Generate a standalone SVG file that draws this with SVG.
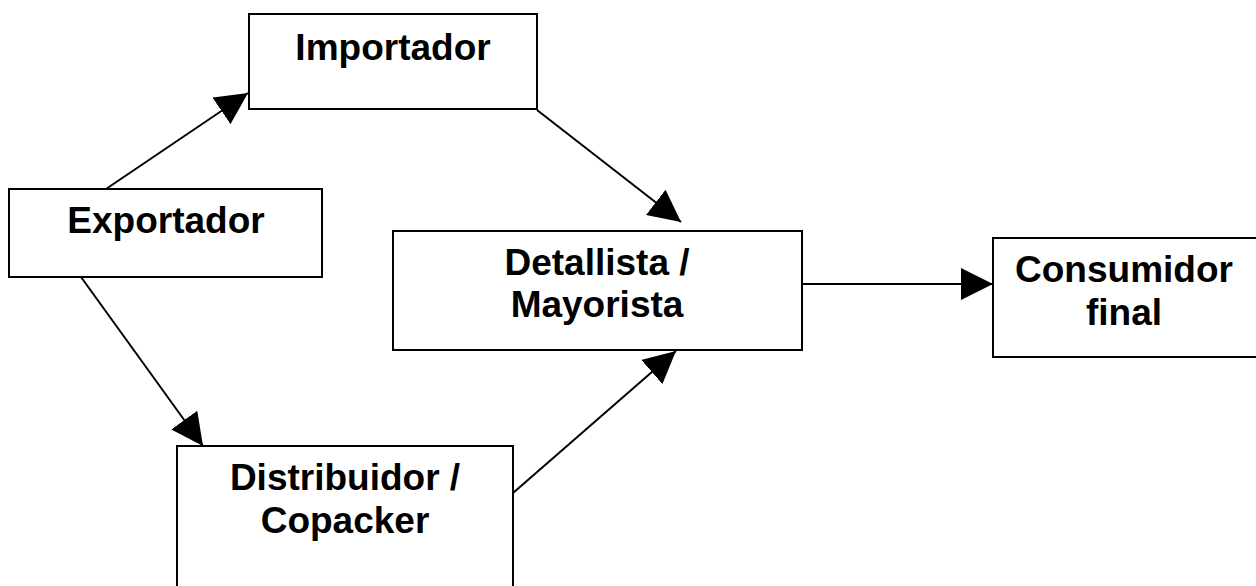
<svg xmlns="http://www.w3.org/2000/svg" width="1256" height="586" viewBox="0 0 1256 586">
<style>
.box{fill:#fff;stroke:#000;stroke-width:2}
.lbl{font-family:"Liberation Sans",Arial,sans-serif;font-weight:bold;font-size:37px;fill:#000;text-anchor:middle}
.edge{stroke:#000;stroke-width:2;fill:none;marker-end:url(#ah)}
</style>
<defs>
<marker id="ah" markerUnits="userSpaceOnUse" markerWidth="32" markerHeight="32" viewBox="0 0 30 30" refX="30" refY="15" orient="auto">
<path d="M0,0 L30,15 L0,30 Z" fill="#000"/>
</marker>
</defs>
<rect width="1256" height="586" fill="#fff"/>
<g id="connectors">
<line class="edge" x1="106" y1="189" x2="248" y2="93"/>
<line class="edge" x1="81" y1="277" x2="203" y2="446"/>
<line class="edge" x1="537" y1="110" x2="681" y2="222"/>
<line class="edge" x1="513" y1="493" x2="676" y2="351"/>
<line class="edge" x1="802" y1="284" x2="993" y2="284"/>
</g>
<g id="importador">
<rect class="box" x="249" y="14" width="288" height="95"/>
<text class="lbl" x="393" y="60">Importador</text>
</g>
<g id="exportador">
<rect class="box" x="9" y="189" width="313" height="88"/>
<text class="lbl" x="166" y="233">Exportador</text>
</g>
<g id="detallista">
<rect class="box" x="393" y="231" width="409" height="119"/>
<text class="lbl" x="597" y="275">Detallista /</text>
<text class="lbl" x="597" y="317">Mayorista</text>
</g>
<g id="consumidor">
<rect class="box" x="993" y="238" width="270" height="119"/>
<text class="lbl" x="1124" y="282">Consumidor</text>
<text class="lbl" x="1124" y="325">final</text>
</g>
<g id="distribuidor">
<rect class="box" x="177" y="446" width="336" height="150"/>
<text class="lbl" x="345" y="490">Distribuidor /</text>
<text class="lbl" x="345" y="533">Copacker</text>
</g>
</svg>
